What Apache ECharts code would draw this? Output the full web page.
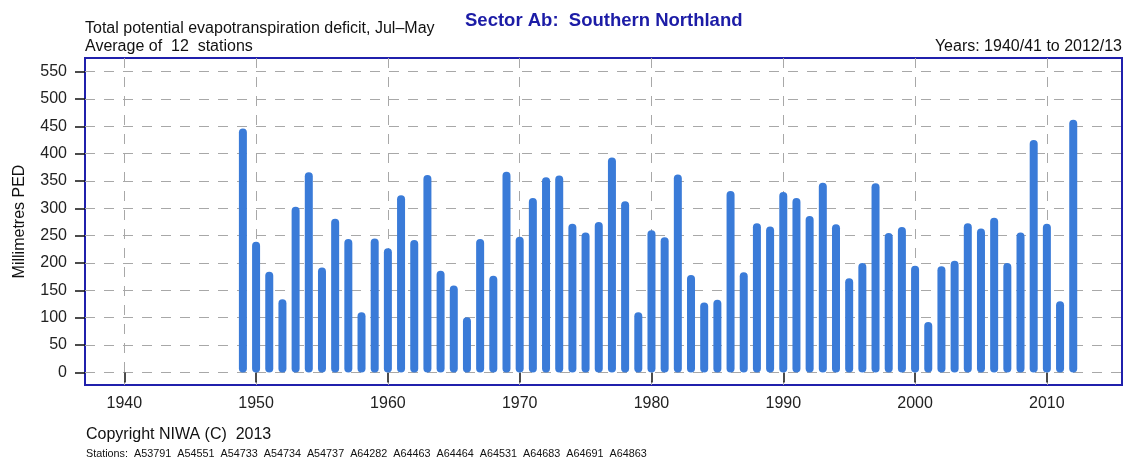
<!DOCTYPE html>
<html>
<head>
<meta charset="utf-8">
<script src="https://cdn.jsdelivr.net/npm/echarts@6/dist/echarts.min.js"></script>
<style>
  html, body { margin: 0; padding: 0; background: #fff; }
  #main { width: 1129px; height: 462px; }
</style>
</head>
<body>
<div id="main"></div>
<script>
// season start years, 1949/50 .. 2012/13
var years = [1949,1950,1951,1952,1953,1954,1955,1956,1957,1958,1959,
  1960,1961,1962,1963,1964,1965,1966,1967,1968,1969,
  1970,1971,1972,1973,1974,1975,1976,1977,1978,1979,
  1980,1981,1982,1983,1984,1985,1986,1987,1988,1989,
  1990,1991,1992,1993,1994,1995,1996,1997,1998,1999,
  2000,2001,2002,2003,2004,2005,2006,2007,2008,2009,
  2010,2011,2012];
// total PED (mm)
var ped = [446,239,184,134,303,366,192,281,244,110,245,
  227,324,242,361,186,159,101,244,177,367,
  248,319,357,360,272,256,275,393,313,110,
  260,247,362,178,128,133,332,183,273,267,
  330,319,286,347,271,172,200,346,255,266,
  195,92,194,204,273,263,283,200,256,425,
  272,130,462];

var xTicks = [1940,1950,1960,1970,1980,1990,2000,2010];
var yTicks = [0,50,100,150,200,250,300,350,400,450,500,550];
var stations = ['A53791','A54551','A54733','A54734','A54737','A64282','A64463','A64464','A64531','A64683','A64691','A64863'];

var barData = [];
for (var i = 0; i < years.length; i++) {
  barData.push([years[i], ped[i]]);
}

var font = '"Liberation Sans", Arial, sans-serif';
var chart = echarts.init(document.getElementById('main'));

function txt(size, weight, color) {
  return { fontSize: size, lineHeight: size, fontWeight: weight, color: color, fontFamily: font };
}

chart.setOption({
  animation: false,
  textStyle: { fontFamily: font },
  title: [{
    text: 'Total potential evapotranspiration deficit, Jul\u2013May',
    left: 85, top: 21, padding: 0,
    textStyle: txt(16, 'normal', '#111')
  }, {
    text: 'Average of  12  stations',
    left: 85, top: 39, padding: 0,
    textStyle: txt(16, 'normal', '#111')
  }, {
    text: 'Sector Ab:  Southern Northland',
    left: 465, top: 12, padding: 0,
    textStyle: txt(18.5, 'bold', '#1c1ca6')
  }, {
    text: 'Years: 1940/41 to 2012/13',
    right: 7, top: 39, padding: 0,
    textStyle: txt(16, 'normal', '#111')
  }, {
    text: 'Copyright NIWA (C)  2013',
    left: 86, top: 427, padding: 0,
    textStyle: txt(16, 'normal', '#111')
  }, {
    text: 'Stations:  ' + stations.join('  '),
    left: 86, top: 449, padding: 0,
    textStyle: txt(10.8, 'normal', '#111')
  }],
  grid: {
    left: 85, right: 7, top: 58, bottom: 77,
    show: true,
    borderColor: '#2020ac',
    borderWidth: 2,
    containLabel: false
  },
  xAxis: {
    type: 'value',
    min: 1937.02,
    max: 2015.7,
    axisLine: { show: false },
    axisTick: { show: true, customValues: xTicks, length: 10, lineStyle: { color: '#111', width: 1.5 } },
    axisLabel: {
      customValues: xTicks, fontSize: 16, color: '#222', margin: 11, fontFamily: font,
      formatter: function (v) { return String(v); }
    },
    splitLine: { show: true, lineStyle: { type: [10, 9], color: '#a8a8a8', width: 1 } }
  },
  yAxis: {
    type: 'value',
    min: -23,
    max: 575,
    name: 'Millimetres PED',
    nameLocation: 'middle',
    nameGap: 57,
    nameRotate: 90,
    nameTextStyle: { fontSize: 16, color: '#111', fontFamily: font },
    axisLine: { show: false },
    axisTick: { show: true, customValues: yTicks, length: 10, lineStyle: { color: '#111', width: 1.5 } },
    axisLabel: { customValues: yTicks, fontSize: 16, color: '#222', margin: 18, fontFamily: font },
    splitLine: { show: true, lineStyle: { type: [10, 9], color: '#a8a8a8', width: 1 } }
  },
  series: [{
    type: 'bar',
    data: barData,
    barWidth: 8,
    itemStyle: { color: '#3a7bd8', borderRadius: 4 }
  }]
});
</script>
</body>
</html>
